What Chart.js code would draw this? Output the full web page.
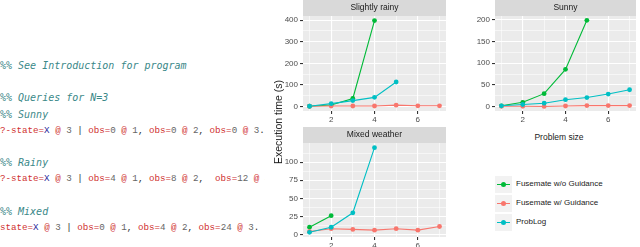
<!DOCTYPE html>
<html>
<head>
<meta charset="utf-8">
<script src="https://cdn.jsdelivr.net/npm/chart.js@4.4.1/dist/chart.umd.min.js"></script>
<style>
body { margin: 0; width: 640px; height: 247px; overflow: hidden; background: #fff; position: relative; font-family: "Liberation Sans", Arial, sans-serif; }
#code { position: absolute; left: 0; top: 0; width: 265px; height: 247px; overflow: hidden; }
.ln { position: absolute; left: 0; white-space: pre; font-family: "Liberation Mono", monospace; font-size: 9.2px; line-height: 12px; color: #333; }
.cm { font-family: "DejaVu Sans Mono", monospace; font-style: italic; font-size: 10px; color: #3a8888; }
.r { color: #cf2f2f; } .b { color: #2a2a9a; } .g { color: #666; }
canvas { position: absolute; }
.axt { position: absolute; color: #1a1a1a; white-space: nowrap; }
.key { position: absolute; width: 17px; height: 17px; background: #f2f2f2; }
.key i { position: absolute; left: 2px; top: 8px; width: 13px; height: 1.2px; }
.key b { position: absolute; left: 6px; top: 6px; width: 5px; height: 5px; border-radius: 50%; }
.lab { position: absolute; font-size: 8px; color: #1a1a1a; white-space: nowrap; }
</style>
</head>
<body>
<div id="code">
<div class="ln cm" style="top:60px">%% See Introduction for program</div>
<div class="ln cm" style="top:92px">%% Queries for N=3</div>
<div class="ln cm" style="top:109px">%% Sunny</div>
<div class="ln" style="top:125px"><span class="r">?-state=</span><span class="b">X</span> <span class="r">@</span> <span class="g">3</span> | <span class="r">obs=</span><span class="g">0</span> <span class="r">@</span> <span class="g">1</span>, <span class="r">obs=</span><span class="g">0</span> <span class="r">@</span> <span class="g">2</span>, <span class="r">obs=</span><span class="g">0</span> <span class="r">@</span> <span class="g">3</span>.</div>
<div class="ln cm" style="top:157px">%% Rainy</div>
<div class="ln" style="top:173px"><span class="r">?-state=</span><span class="b">X</span> <span class="r">@</span> <span class="g">3</span> | <span class="r">obs=</span><span class="g">4</span> <span class="r">@</span> <span class="g">1</span>, <span class="r">obs=</span><span class="g">8</span> <span class="r">@</span> <span class="g">2</span>,  <span class="r">obs=</span><span class="g">12</span> <span class="r">@</span> <span class="g">3</span>.</div>
<div class="ln cm" style="top:206px">%% Mixed</div>
<div class="ln" style="top:222px"><span class="r">state=</span><span class="b">X</span> <span class="r">@</span> <span class="g">3</span> | <span class="r">obs=</span><span class="g">0</span> <span class="r">@</span> <span class="g">1</span>, <span class="r">obs=</span><span class="g">4</span> <span class="r">@</span> <span class="g">2</span>, <span class="r">obs=</span><span class="g">24</span> <span class="r">@</span> <span class="g">3</span>.</div>
</div>

<canvas id="rainyChart" width="180" height="125" style="left:270px;top:0px"></canvas>
<canvas id="sunnyChart" width="180" height="125" style="left:460px;top:0px"></canvas>
<canvas id="mixedChart" width="180" height="124" style="left:270px;top:127px"></canvas>

<div class="axt" style="left:278px;top:122px;font-size:10.5px;transform:translate(-50%,-50%) rotate(-90deg)">Execution time (s)</div>
<div class="axt" style="left:559px;top:137px;font-size:8.5px;transform:translate(-50%,-50%)">Problem size</div>
<div id="legend"></div>

<script>
// Problem sizes on the x axis
const problemSize = [1, 2, 3, 4, 5, 6, 7];
const seriesNames = ['Fusemate w/o Guidance', 'Fusemate w/ Guidance', 'ProbLog'];
const seriesColors = ['#00BA38', '#F8766D', '#00BFC4'];

// Slightly rainy
const rainyWithout = [2, 8, 38, 398, null, null, null];
const rainyWith = [2, 3, 3, 3, 7, 4, 4];
const rainyProbLog = [2, 14, 28, 43, 114, null, null];

// Sunny
const sunnyWithout = [2, 10, 30, 86, 199, null, null];
const sunnyWith = [1, 1, 0.5, 1.5, 2.5, 2.5, 2.5];
const sunnyProbLog = [2, 5, 8, 16, 21, 29, 39];

// Mixed weather
const mixedWithout = [10, 26, null, null, null, null, null];
const mixedWith = [4, 8, 7, 6, 8, 6, 11];
const mixedProbLog = [3, 10, 30, 120, null, null, null];

// Grey panel + facet strip
const panelBackground = {
    id: 'panelBackground',
    beforeDraw(chart, args, opts) {
        const ctx = chart.ctx;
        const a = chart.chartArea;
        ctx.save();
        ctx.fillStyle = '#EBEBEB';
        ctx.fillRect(a.left, a.top, a.right - a.left, a.bottom - a.top);
        ctx.fillStyle = '#D9D9D9';
        ctx.fillRect(a.left, a.top - 16, a.right - a.left, 16);
        ctx.fillStyle = '#1A1A1A';
        ctx.font = '8.5px "Liberation Sans", Arial, sans-serif';
        ctx.textAlign = 'center';
        ctx.textBaseline = 'middle';
        ctx.fillText(opts.text, (a.left + a.right) / 2, a.top - 8);
        ctx.restore();
    }
};

function series(i, values) {
    return {
        label: seriesNames[i],
        data: values.map((y, k) => ({ x: problemSize[k], y: y })).filter(p => p.y !== null),
        borderColor: seriesColors[i],
        backgroundColor: seriesColors[i],
        borderWidth: 1.1,
        pointRadius: 2.4,
        pointBorderWidth: 0,
        tension: 0,
        order: 3 - i
    };
}

const tickFont = { family: '"Liberation Sans", Arial, sans-serif', size: 8 };

function makePanel(id, title, without, withG, probLog, yMin, yMax, yMajor, yMinor, yWidth, rightPad) {
    const xMajor = [2, 4, 6];
    new Chart(document.getElementById(id), {
        type: 'line',
        data: {
            datasets: [series(0, without), series(1, withG), series(2, probLog)]
        },
        plugins: [panelBackground],
        options: {
            responsive: false,
            animation: false,
            layout: { padding: { top: 16, right: rightPad, left: 0, bottom: 0 } },
            plugins: {
                legend: { display: false },
                tooltip: { enabled: false },
                panelBackground: { text: title }
            },
            scales: {
                x: {
                    type: 'linear',
                    min: 0.7,
                    max: 7.3,
                    afterBuildTicks: s => { s.ticks = problemSize.map(v => ({ value: v })); },
                    afterFit: s => { s.height = 14; },
                    ticks: {
                        autoSkip: false, maxRotation: 0, padding: 1, color: '#4D4D4D', font: tickFont,
                        callback: v => xMajor.includes(v) ? v : ''
                    },
                    grid: {
                        color: '#FFFFFF',
                        lineWidth: c => (c.tick && xMajor.includes(c.tick.value)) ? 1.1 : 0.55,
                        tickColor: c => (c.tick && xMajor.includes(c.tick.value)) ? '#333333' : 'rgba(0,0,0,0)',
                        tickLength: 3
                    },
                    border: { display: false }
                },
                y: {
                    min: yMin,
                    max: yMax,
                    afterBuildTicks: s => { s.ticks = yMajor.concat(yMinor).sort((a, b) => a - b).map(v => ({ value: v })); },
                    afterFit: s => { s.width = yWidth; },
                    ticks: {
                        autoSkip: false, padding: 2, color: '#4D4D4D', font: tickFont,
                        callback: v => yMajor.includes(v) ? v : ''
                    },
                    grid: {
                        color: '#FFFFFF',
                        lineWidth: c => (c.tick && yMajor.includes(c.tick.value)) ? 1.1 : 0.55,
                        tickColor: c => (c.tick && yMajor.includes(c.tick.value)) ? '#333333' : 'rgba(0,0,0,0)',
                        tickLength: 3
                    },
                    border: { display: false }
                }
            }
        }
    });
}

makePanel('rainyChart', 'Slightly rainy', rainyWithout, rainyWith, rainyProbLog,
    -20, 419, [0, 100, 200, 300, 400], [50, 150, 250, 350], 33, 1);
makePanel('sunnyChart', 'Sunny', sunnyWithout, sunnyWith, sunnyProbLog,
    -10, 209, [0, 50, 100, 150, 200], [25, 75, 125, 175], 35, 0);
makePanel('mixedChart', 'Mixed weather', mixedWithout, mixedWith, mixedProbLog,
    -3.5, 126.5, [0, 25, 50, 75, 100], [12.5, 37.5, 62.5, 87.5, 112.5], 33, 1);

// Legend in the empty facet slot
const legend = document.getElementById('legend');
const keyTops = [176, 195, 214];
seriesNames.forEach((name, i) => {
    const key = document.createElement('div');
    key.className = 'key';
    key.style.left = '495px';
    key.style.top = keyTops[i] + 'px';
    key.innerHTML = '<i style="background:' + seriesColors[i] + '"></i><b style="background:' + seriesColors[i] + '"></b>';
    legend.appendChild(key);
    const lab = document.createElement('div');
    lab.className = 'lab';
    lab.style.left = '516px';
    lab.style.top = (keyTops[i] + 3) + 'px';
    lab.textContent = name;
    legend.appendChild(lab);
});
</script>
</body>
</html>
